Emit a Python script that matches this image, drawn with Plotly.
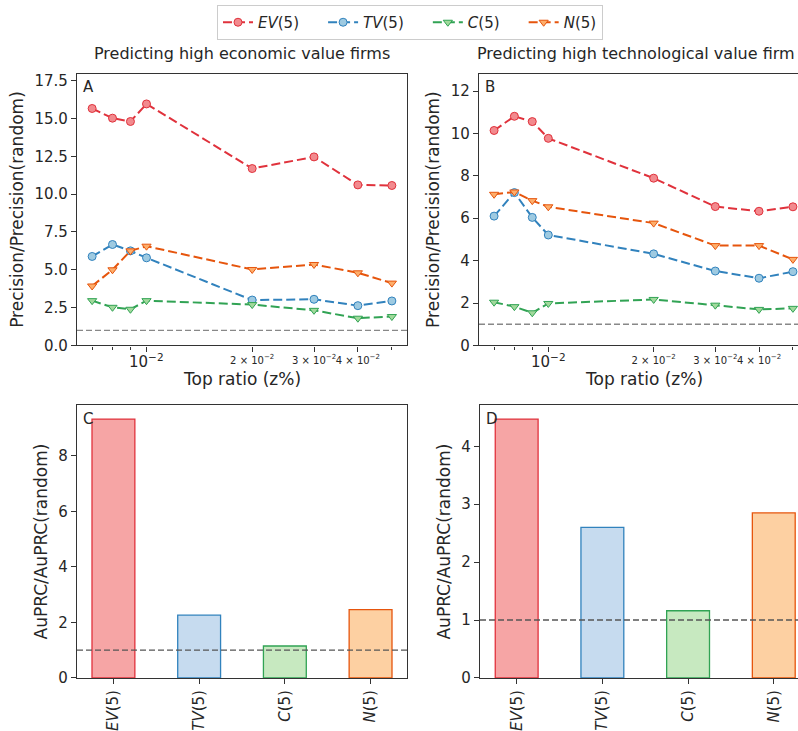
import math
import plotly.graph_objects as go

# ---------------- data ----------------
top_ratio = [0.007, 0.008, 0.009, 0.01, 0.02, 0.03, 0.04, 0.05]

econ_EV = [15.66, 15.02, 14.80, 15.96, 11.69, 12.46, 10.61, 10.57]
econ_TV = [5.88, 6.67, 6.25, 5.79, 3.00, 3.05, 2.63, 2.94]
econ_C = [2.96, 2.52, 2.39, 2.96, 2.70, 2.32, 1.80, 1.91]
econ_N = [3.93, 5.00, 6.25, 6.56, 5.02, 5.35, 4.80, 4.12]

tech_EV = [10.14, 10.81, 10.56, 9.77, 7.89, 6.55, 6.33, 6.54]
tech_TV = [6.10, 7.21, 6.04, 5.21, 4.32, 3.51, 3.17, 3.48]
tech_C = [2.04, 1.83, 1.54, 1.98, 2.17, 1.90, 1.70, 1.75]
tech_N = [7.13, 7.24, 6.83, 6.54, 5.77, 4.71, 4.71, 4.06]

bar_labels = ["<i>EV</i>(5)", "<i>TV</i>(5)", "<i>C</i>(5)", "<i>N</i>(5)"]
auprc_econ = [9.33, 2.26, 1.15, 2.46]
auprc_tech = [4.47, 2.60, 1.16, 2.85]

series_names = ["<i>EV</i>(5)", "<i>TV</i>(5)", "<i>C</i>(5)", "<i>N</i>(5)"]
line_colors = ["#e0323c", "#3182bd", "#31a354", "#e6550d"]
marker_fill = ["#f28a8e", "#9ecae1", "#a1d99b", "#fdae6b"]
bar_fill = ["#f6a5a5", "#c6dbef", "#c7e9c0", "#fdd0a2"]
symbols = ["circle", "circle", "triangle-down", "triangle-down"]

log_major = [0.01]
log_major_text = ["10<sup>−2</sup>"]
log_minor_lab = [0.02, 0.03, 0.04]
log_minor_text = ["2 × 10<sup>−2</sup>", "3 × 10<sup>−2</sup>", "4 × 10<sup>−2</sup>"]
log_minor_unlab = [0.007, 0.008, 0.009, 0.05, 0.06]

W, H = 798, 731
SY = 1.0135  # vertical pixel correction
FONT = "DejaVu Sans"
TXT = "#262626"
AX = "#333333"
PAD = "\u00a0" * 4


def px_x(p):
    return p / W


def px_y(p):
    return 1 - p * SY / H


fig = go.Figure()

econ = [econ_EV, econ_TV, econ_C, econ_N]
tech = [tech_EV, tech_TV, tech_C, tech_N]

for i in range(4):
    legend_name = series_names[i] + (PAD if i < 3 else "")
    for (vals, xa, ya, show) in [(econ[i], "x", "y", True), (tech[i], "x2", "y2", False)]:
        fig.add_trace(go.Scatter(
            x=top_ratio, y=vals, xaxis=xa, yaxis=ya,
            mode="lines+markers", name=legend_name, showlegend=show,
            line=dict(color=line_colors[i], width=2, dash="9px,4px"),
            marker=dict(symbol=symbols[i], size=8, color=marker_fill[i],
                        line=dict(color=line_colors[i], width=1)),
        ))

cats = list(range(4))
for vals, xa, ya in [(auprc_econ, "x3", "y3"), (auprc_tech, "x4", "y4")]:
    fig.add_trace(go.Bar(
        x=cats, y=vals, xaxis=xa, yaxis=ya, width=0.5, showlegend=False,
        marker=dict(color=bar_fill, line=dict(color=line_colors, width=1.3)),
    ))

common_ax = dict(showline=True, linecolor=AX, linewidth=1.3, ticks="outside",
                 tickcolor=AX, ticklen=5, tickwidth=1.2, showgrid=False, zeroline=False,
                 tickfont=dict(family=FONT, size=15, color=TXT))

top_dom = [px_y(345), px_y(72)]
bot_dom = [px_y(679), px_y(405)]
left_dom = [px_x(77), px_x(407)]
right_dom_B = [px_x(479), 1.0]
right_dom_D = [px_x(480), 1.0]

xlog = dict(common_ax, type="log", tickvals=log_major + log_minor_lab,
            ticktext=[""] + log_minor_text, tickangle=0,
            tickfont=dict(family=FONT, size=10, color=TXT),
            minor=dict(tickmode="array", tickvals=log_minor_unlab,
                       ticks="outside", ticklen=3, tickcolor=AX))

fig.update_layout(
    xaxis=dict(xlog, domain=left_dom, range=[-2.198, -1.258], anchor="y", mirror=True),
    yaxis=dict(common_ax, domain=top_dom, range=[0, 17.96], anchor="x", mirror=True,
               tickvals=[0, 2.5, 5, 7.5, 10, 12.5, 15, 17.5], tickformat=".1f",
               title=dict(text="Precision/Precision(random)", font=dict(family=FONT, size=17, color=TXT), standoff=6)),
    xaxis2=dict(xlog, domain=right_dom_B, range=[-2.198, -2.198 + 319 / 350], anchor="y2", mirror=True),
    yaxis2=dict(common_ax, domain=top_dom, range=[0, 12.82], anchor="x2", mirror=False,
                tickvals=[0, 2, 4, 6, 8, 10, 12],
                title=dict(text="Precision/Precision(random)", font=dict(family=FONT, size=17, color=TXT), standoff=6)),
    xaxis3=dict(common_ax, domain=left_dom, range=[-0.425, 3.425], anchor="y3", mirror=True,
                tickvals=cats, ticktext=bar_labels, tickangle=-90),
    yaxis3=dict(common_ax, domain=bot_dom, range=[0, 9.83], anchor="x3", mirror=True,
                tickvals=[0, 2, 4, 6, 8],
                title=dict(text="AuPRC/AuPRC(random)", font=dict(family=FONT, size=17, color=TXT), standoff=6)),
    xaxis4=dict(common_ax, domain=right_dom_D, range=[-0.428, -0.428 + 318 / 85.7], anchor="y4", mirror=True,
                tickvals=cats, ticktext=bar_labels, tickangle=-90),
    yaxis4=dict(common_ax, domain=bot_dom, range=[0, 4.71], anchor="x4", mirror=False,
                tickvals=[0, 1, 2, 3, 4],
                title=dict(text="AuPRC/AuPRC(random)", font=dict(family=FONT, size=17, color=TXT), standoff=6)),
)

# large 10^-2 tick labels and x-axis titles
for xa, ya, xcen in [("x", "y", 242), ("x2", "y2", 644)]:
    for v, t in zip(log_major, log_major_text):
        fig.add_annotation(xref=xa, yref=f"{ya} domain", x=math.log10(v), y=0, yanchor="top",
                           xanchor="center", yshift=-4, text=t, showarrow=False,
                           font=dict(family=FONT, size=15, color=TXT))
    fig.add_annotation(xref="paper", yref="paper", x=px_x(xcen), y=px_y(379), text="Top ratio (z%)",
                       showarrow=False, xanchor="center", yanchor="middle",
                       font=dict(family=FONT, size=17, color=TXT))

# reference lines at 1
for xa, ya, col in [("x", "y", "#888888"), ("x2", "y2", "#888888"), ("x3", "y3", "#555555"), ("x4", "y4", "#555555")]:
    fig.add_shape(type="line", xref=f"{xa} domain", yref=ya, x0=0, x1=1, y0=1, y1=1,
                  line=dict(color=col, width=1.3, dash="6px,3px"), layer="above")

# panel letters
for xa, ya, lab in [("x", "y", "A"), ("x2", "y2", "B"), ("x3", "y3", "C"), ("x4", "y4", "D")]:
    fig.add_annotation(xref=f"{xa} domain", yref=f"{ya} domain", x=0.012, y=0.99,
                       xanchor="left", yanchor="top", text=lab, showarrow=False,
                       font=dict(family=FONT, size=15, color=TXT))

# titles (the right-hand title is cut at the page edge in the reference)
fig.add_annotation(xref="paper", yref="paper", x=px_x(242), y=px_y(52), text="Predicting high economic value firms",
                   showarrow=False, xanchor="center", yanchor="middle", font=dict(family=FONT, size=16, color=TXT))
fig.add_annotation(xref="paper", yref="paper", x=px_x(797), y=px_y(52), text="Predicting high technological value firm",
                   showarrow=False, xanchor="right", yanchor="middle", font=dict(family=FONT, size=16, color=TXT))

fig.update_layout(
    width=W, height=H, margin=dict(l=0, r=0, t=0, b=0),
    paper_bgcolor="white", plot_bgcolor="white",
    font=dict(family=FONT, color=TXT),
    legend=dict(orientation="h", x=px_x(410), xanchor="center", y=px_y(3), yanchor="top",
                bordercolor="#cccccc", borderwidth=1, font=dict(family=FONT, size=15, color=TXT),
                itemwidth=30),
)

fig.write_html("out.html")
